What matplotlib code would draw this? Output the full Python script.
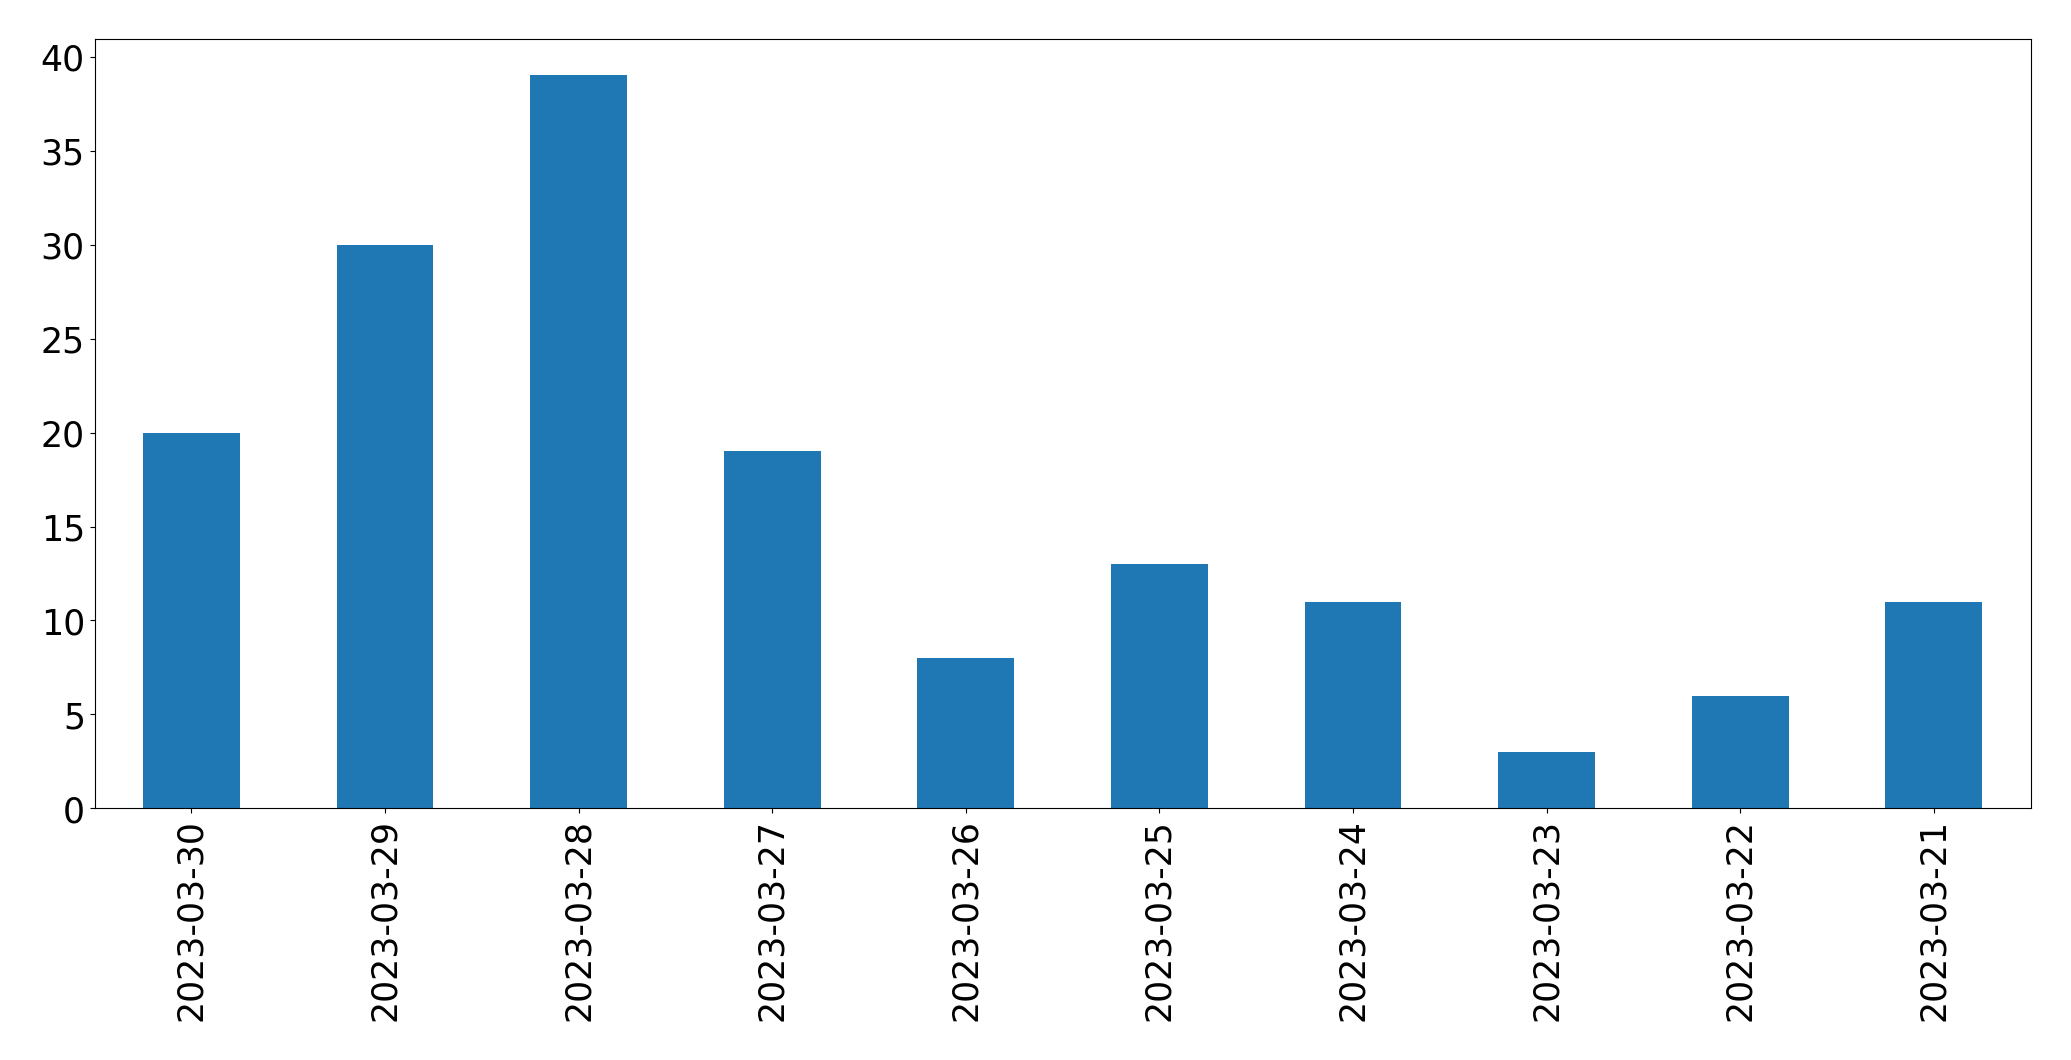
import matplotlib
matplotlib.use("Agg")
import matplotlib.pyplot as plt

dates = ["2023-03-30", "2023-03-29", "2023-03-28", "2023-03-27", "2023-03-26",
         "2023-03-25", "2023-03-24", "2023-03-23", "2023-03-22", "2023-03-21"]
counts = [20, 30, 39, 19, 8, 13, 11, 3, 6, 11]

fig = plt.figure(figsize=(20.71, 10.605), dpi=100)
ax = fig.add_axes([0.0457, 0.2372, 0.9805 - 0.0457, 0.963 - 0.2372])
x = list(range(len(dates)))
ax.bar(x, counts, width=0.5, color="#1f77b4")
ax.set_xlim(-0.5, len(dates) - 0.5)
ax.set_ylim(0, max(counts) * 1.05)
ax.set_xticks(x)
ax.set_xticklabels(dates, rotation=90)
ax.tick_params(axis="both", labelsize=25)
fig.savefig("out.png", dpi=100)
